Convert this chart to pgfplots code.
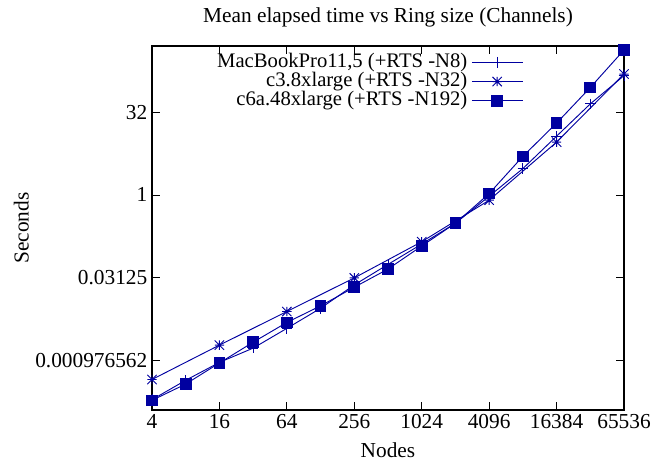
\documentclass[border=0pt]{standalone}
\usepackage{fontspec}
\setmainfont{Liberation Serif}
\usepackage{pgfplots}
\pgfplotsset{compat=1.18}
\definecolor{gblue}{RGB}{0,0,160}
\pgfdeclareplotmark{gstar}{%
  \pgfpathmoveto{\pgfqpoint{-\pgfplotmarksize}{0pt}}%
  \pgfpathlineto{\pgfqpoint{\pgfplotmarksize}{0pt}}%
  \pgfpathmoveto{\pgfqpoint{0pt}{-\pgfplotmarksize}}%
  \pgfpathlineto{\pgfqpoint{0pt}{\pgfplotmarksize}}%
  \pgfpathmoveto{\pgfqpoint{-\pgfplotmarksize}{-\pgfplotmarksize}}%
  \pgfpathlineto{\pgfqpoint{\pgfplotmarksize}{\pgfplotmarksize}}%
  \pgfpathmoveto{\pgfqpoint{-\pgfplotmarksize}{\pgfplotmarksize}}%
  \pgfpathlineto{\pgfqpoint{\pgfplotmarksize}{-\pgfplotmarksize}}%
  \pgfusepathqstroke}
\begin{document}
\begin{tikzpicture}
\begin{axis}[
  name=ax,
  scale only axis,
  width=354pt, height=273pt,
  xmode=log, ymode=log,
  log basis x=2, log basis y=2,
  xmin=4, xmax=65536,
  ymin=0.0001220703125, ymax=512,
  xtick={4,16,64,256,1024,4096,16384,65536},
  xticklabels={4,16,64,256,1024,4096,16384,65536},
  ytick={0.0009765625,0.03125,1,32},
  yticklabels={0.000976562,0.03125,1,32},
  minor xtick={}, minor ytick={},
  tick align=inside,
  major tick length=6pt,
  tick style={black, line width=0.6pt},
  axis line style={line width=0.9pt},
  font=\fontsize{16}{19}\selectfont,
  tick label style={font=\fontsize{16}{19}\selectfont},
  /pgf/number format/assume math mode=true,
  title={Mean elapsed time vs Ring size (Channels)},
  title style={yshift=5pt},
  xlabel={Nodes}, ylabel={Seconds},
  xlabel style={yshift=-3pt},
  ylabel style={yshift=-2pt},
  legend plot pos=right,
  legend cell align=right,
  legend image code/.code={\draw[mark repeat=2,mark phase=2] plot coordinates {(0pt,0pt) (19pt,0pt) (38pt,0pt)};},
  legend style={draw=none, fill=none, at={(0.795,0.99)}, anchor=north east,
    font=\fontsize{15.5}{18}\selectfont,
    nodes={inner sep=0pt, text height=11pt, text depth=3.5pt},
    row sep=0pt, column sep=3pt},
  every axis plot/.append style={gblue, line width=0.7pt},
]
\addplot[gblue, mark=+, mark size=4pt] coordinates {
(4,0.000188) (8,0.000424) (16,0.000897) (32,0.001630) (64,0.003730) (128,0.008660)
(256,0.023030) (512,0.054400) (1024,0.127600) (2048,0.305500) (4096,0.946000)
(8192,3.010) (16384,11.71) (32768,45.25) (65536,148.0)};
\addlegendentry{MacBookPro11,5 (+RTS -N8)}
\addplot[gblue, mark=gstar, mark size=3.5pt] coordinates {
(4,0.000438) (16,0.001850) (64,0.007560) (256,0.030900) (1024,0.140600)
(4096,0.801) (16384,9.13) (65536,158.0)};
\addlegendentry{c3.8xlarge (+RTS -N32)}
\addplot[gblue, mark=square*, mark size=4pt] coordinates {
(4,0.000183) (8,0.000362) (16,0.000875) (32,0.002090) (64,0.004780) (128,0.009570)
(256,0.020900) (512,0.044800) (1024,0.117600) (2048,0.305500) (4096,1.057)
(8192,5.03) (16384,20.25) (32768,89.9) (65536,433.0)};
\addlegendentry{c6a.48xlarge (+RTS -N192)}
\end{axis}
\pgfresetboundingbox
\path[use as bounding box] ([shift={(-114pt,-42.75pt)}]ax.south west) rectangle ([shift={(33pt,34.5pt)}]ax.north east);
\end{tikzpicture}
\end{document}
